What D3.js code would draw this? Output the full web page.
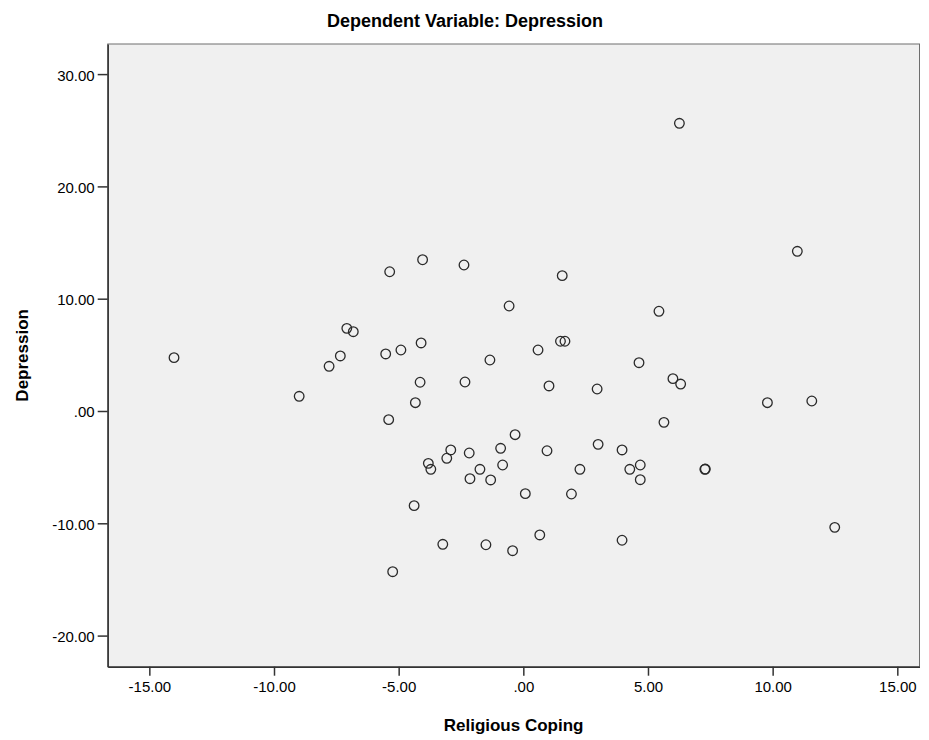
<!DOCTYPE html>
<html>
<head>
<meta charset="utf-8">
<script src="https://cdn.jsdelivr.net/npm/d3@7"></script>
<style>
    body { margin: 0; background: #fff; }
    text { font-family: "Liberation Sans", Arial, sans-serif; fill: #000; }
</style>
</head>
<body>
<svg id="chart"></svg>
<script>
// Religious Coping (x) vs Depression (y), partial regression plot
const copingValues = [
    -4.04, -5.36, -7.08, -6.82, -4.10, -4.91, -5.52, -14.01, -7.34, -7.79,
    -4.14, -4.33, -8.99, -5.40, 5.64, -0.33, -2.91, -2.17, -0.91, 0.95,
    3.00, 3.96, -3.81, -3.71, -3.07, -1.74, -0.83, 2.27, 4.27, 4.69,
    4.69, -2.14, -1.31, 0.08, 1.93, -4.38, 0.66, 3.96, -3.23, -1.50,
    -0.43, -5.24, 6.26, 10.99, 1.56, 5.44, 1.49, 1.67, 4.64, 6.00,
    6.31, 2.96, 9.79, 11.57, 7.28, 7.30, 12.49, -2.38, -0.57, -1.34,
    0.59, 1.03, -2.34
];
const depressionValues = [
    13.47, 12.40, 7.36, 7.06, 6.06, 5.43, 5.08, 4.75, 4.90, 3.98,
    2.56, 0.74, 1.31, -0.77, -1.01, -2.11, -3.47, -3.74, -3.32, -3.54,
    -2.97, -3.47, -4.66, -5.19, -4.21, -5.19, -4.81, -5.19, -5.19, -4.81,
    -6.12, -6.03, -6.14, -7.36, -7.39, -8.43, -11.04, -11.51, -11.87, -11.91,
    -12.44, -14.31, 25.62, 14.22, 12.05, 8.88, 6.21, 6.21, 4.30, 2.88,
    2.40, 1.96, 0.74, 0.89, -5.19, -5.17, -10.36, 13.00, 9.35, 4.54,
    5.43, 2.23, 2.58
];
const xTicks = [-15, -10, -5, 0, 5, 10, 15];
const yTicks = [-20, -10, 0, 10, 20, 30];
const xDomain = [-16.67, 15.89];
const yDomain = [-22.77, 32.68];

const chartTitle = "Dependent Variable: Depression";
const xTitle = "Religious Coping";
const yTitle = "Depression";

const width = 929, height = 740;
const margin = { top: 44, right: 9.5, bottom: 73.3, left: 107.7 };
const innerW = width - margin.left - margin.right;
const innerH = height - margin.top - margin.bottom;

const svg = d3.select("#chart").attr("width", width).attr("height", height);

const x = d3.scaleLinear().domain(xDomain).range([0, innerW]);
const y = d3.scaleLinear().domain(yDomain).range([innerH, 0]);

// SPSS style: 2 decimals, plain hyphen, no leading zero
const fmt = v => v.toFixed(2).replace(/^0\./, ".");

const g = svg.append("g")
    .attr("transform", `translate(${margin.left},${margin.top})`);

g.append("rect")
    .attr("width", innerW)
    .attr("height", innerH)
    .attr("fill", "#f0f0f0")
    .attr("stroke", "#6e6e6e")
    .attr("stroke-width", 1);

const xAxis = g.append("g")
    .attr("transform", `translate(0,${innerH})`)
    .call(d3.axisBottom(x).tickValues(xTicks).tickFormat(fmt)
        .tickSizeInner(9).tickSizeOuter(0).tickPadding(6));

const yAxis = g.append("g")
    .call(d3.axisLeft(y).tickValues(yTicks).tickFormat(fmt)
        .tickSizeInner(10).tickSizeOuter(0).tickPadding(3));

[xAxis, yAxis].forEach(a => {
    a.select(".domain").attr("stroke", "#333").attr("stroke-width", 1.5);
    a.selectAll(".tick line").attr("stroke", "#333").attr("stroke-width", 1.5);
    a.selectAll(".tick text")
        .attr("font-size", 15)
        .attr("font-family", "Liberation Sans, Arial, sans-serif")
        .attr("fill", "#222");
});
yAxis.selectAll(".tick text").attr("dy", "0.4em");

const points = copingValues.map((v, i) => ({ x: v, y: depressionValues[i] }));

g.selectAll("circle.pt")
    .data(points)
    .enter()
    .append("circle")
    .attr("class", "pt")
    .attr("cx", d => x(d.x))
    .attr("cy", d => y(d.y))
    .attr("r", 4.8)
    .attr("fill", "none")
    .attr("stroke", "#2a2a2a")
    .attr("stroke-width", 1.3);

svg.append("text")
    .attr("x", 465)
    .attr("y", 27)
    .attr("text-anchor", "middle")
    .attr("font-size", 18)
    .attr("font-weight", "bold")
    .text(chartTitle);

svg.append("text")
    .attr("x", margin.left + innerW / 2)
    .attr("y", 731)
    .attr("text-anchor", "middle")
    .attr("font-size", 17)
    .attr("font-weight", "bold")
    .text(xTitle);

svg.append("text")
    .attr("transform", `translate(28,${margin.top + innerH / 2}) rotate(-90)`)
    .attr("text-anchor", "middle")
    .attr("font-size", 17)
    .attr("font-weight", "bold")
    .text(yTitle);
</script>
</body>
</html>
